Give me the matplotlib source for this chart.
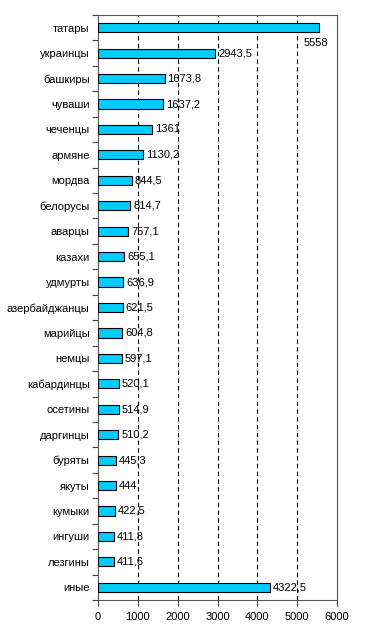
import matplotlib
matplotlib.use("Agg")
import matplotlib.pyplot as plt
import numpy as np

plt.rcParams['font.family'] = ['Liberation Sans', 'DejaVu Sans']

names = ["татары", "украинцы", "башкиры", "чуваши", "чеченцы", "армяне", "мордва",
         "белорусы", "аварцы", "казахи", "удмурты", "азербайджанцы", "марийцы", "немцы",
         "кабардинцы", "осетины", "даргинцы", "буряты", "якуты", "кумыки", "ингуши",
         "лезгины", "иные"]
values = [5558, 2943.5, 1673.8, 1637.2, 1361, 1130.2, 844.5, 814.7, 757.1, 655.1,
          636.9, 621.5, 604.8, 597.1, 520.1, 514.9, 510.2, 445.3, 444, 422.5, 411.8,
          411.6, 4322.5]
xticks = [0, 1000, 2000, 3000, 4000, 5000, 6000]

def fmt(v):
    s = f"{v:.1f}".rstrip("0").rstrip(".")
    return s.replace(".", ",")

fig = plt.figure(figsize=(3.66, 6.41), dpi=100)
ax = fig.add_axes([98 / 366, 1 - 600 / 641, (337 - 98) / 366, (600 - 15) / 641])

y = np.arange(len(names))
ax.barh(y, values, height=0.36, color="#00CCFF", edgecolor="black", linewidth=0.8, zorder=3)
ax.set_xlim(0, 6000)
ax.set_ylim(len(names) - 0.5, -0.5)

for x in xticks[1:-1]:
    ax.axvline(x, color="black", linestyle=(0, (4, 3)), linewidth=0.8, zorder=1)

for i, v in enumerate(values):
    if v > 5000:
        ax.text(v - 1000 * 0.1, i + 0.6, fmt(v), ha="center", va="center", fontsize=8, zorder=4)
    else:
        ax.text(v + 70, i, fmt(v), ha="left", va="center", fontsize=8, zorder=4)

ax.set_xticks(xticks)
ax.set_xticklabels([str(t) for t in xticks], fontsize=8)
ax.set_yticks(y)
ax.set_yticklabels(names, fontsize=8)
ax.tick_params(axis="y", length=0, pad=6)
ax.set_yticks(np.arange(len(names) + 1) - 0.5, minor=True)
ax.tick_params(axis="y", which="minor", length=4, width=0.8, color="#444444")
ax.tick_params(axis="x", length=4, width=0.8, color="#444444", pad=5)
for s in ax.spines.values():
    s.set_color("#555555")
    s.set_linewidth(0.8)

fig.savefig("out.png", dpi=100)
